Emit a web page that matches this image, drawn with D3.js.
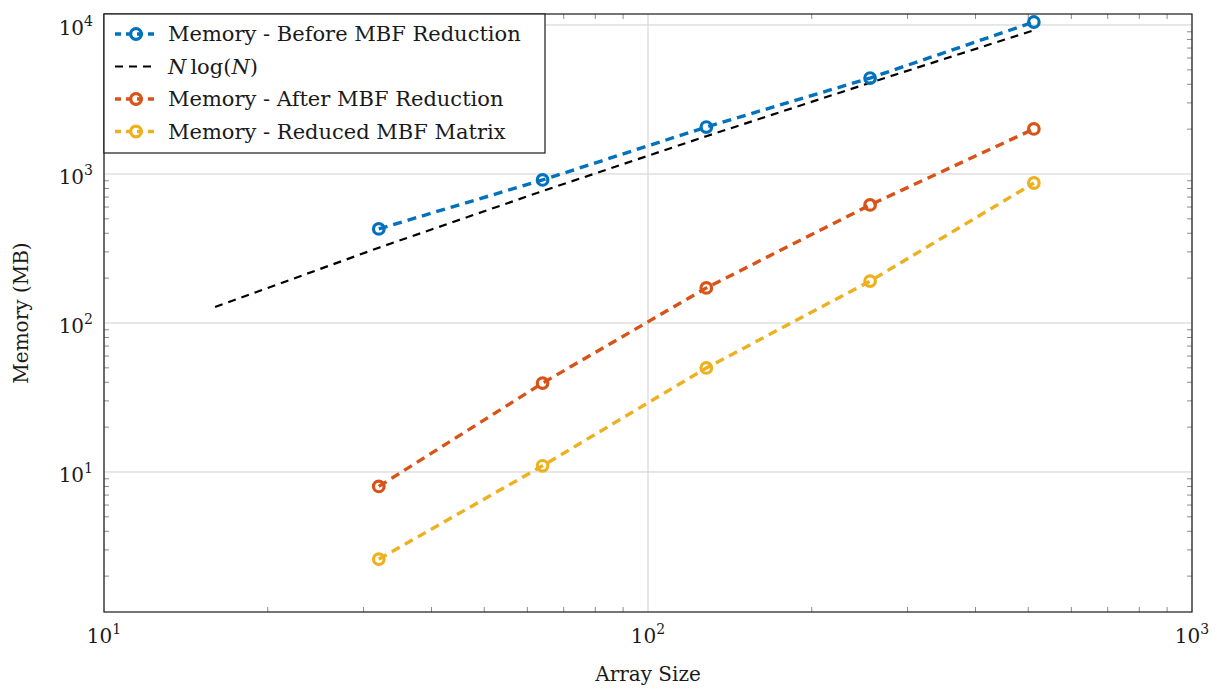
<!DOCTYPE html>
<html>
<head>
<meta charset="utf-8">
<script src="https://cdn.jsdelivr.net/npm/d3@7"></script>
<style>
  html, body { margin: 0; padding: 0; background: #fff; }
  svg text { font-family: "DejaVu Serif", "Liberation Serif", serif; fill: #1a1a1a; }
</style>
</head>
<body>
<svg id="chart" width="1217" height="690"></svg>
<script>
// Array sizes and measured memory use (MB)
const arraySizes = [32, 64, 128, 256, 512];
const memBefore  = [428, 912, 2066, 4405, 10470];
const memAfter   = [8.0, 39.5, 172, 620, 2005];
const memReduced = [2.6, 11.0, 49.9, 191, 870];

// Reference N log(N) curve (scaled)
const refSizes  = [16, 32, 64, 128, 256, 512];
const refValues = [128, 320, 768, 1792, 4096, 9216];

const xTickExps = [1, 2, 3];
const yTickExps = [1, 2, 3, 4];

const colors = { before: "#0072BD", after: "#D95319", reduced: "#EDB120", ref: "#000000" };

const margin = { left: 104, right: 25, top: 14, bottom: 78 };
const W = 1217, H = 690;
const svg = d3.select("#chart");

const x = d3.scaleLog().domain([10, 1000]).range([margin.left, W - margin.right]);
const y = d3.scaleLog().domain([1.149, 11850]).range([H - margin.bottom, margin.top]);

const x0 = margin.left, x1 = W - margin.right, y0 = H - margin.bottom, y1 = margin.top;

// Grid lines at decades
const g = svg.append("g");
xTickExps.forEach(e => {
  const px = x(Math.pow(10, e));
  g.append("line").attr("x1", px).attr("x2", px).attr("y1", y0).attr("y2", y1)
    .attr("stroke", "#cfcfcf").attr("stroke-width", 1);
});
yTickExps.forEach(e => {
  const py = y(Math.pow(10, e));
  g.append("line").attr("x1", x0).attr("x2", x1).attr("y1", py).attr("y2", py)
    .attr("stroke", "#cfcfcf").attr("stroke-width", 1);
});

// Minor ticks, drawn inward on all four sides
const tickColor = "#8a8a8a";
const xMinor = [];
for (let e = 1; e < 3; e++) for (let k = 2; k <= 9; k++) xMinor.push(k * Math.pow(10, e));
xMinor.forEach(v => {
  const px = x(v);
  g.append("line").attr("x1", px).attr("x2", px).attr("y1", y0).attr("y2", y0 - 5).attr("stroke", tickColor);
  g.append("line").attr("x1", px).attr("x2", px).attr("y1", y1).attr("y2", y1 + 5).attr("stroke", tickColor);
});
const yMinor = [];
for (let e = 0; e < 5; e++) for (let k = 1; k <= 9; k++) {
  const v = k * Math.pow(10, e);
  if (k !== 1 && v > y.domain()[0] && v < y.domain()[1]) yMinor.push(v);
}
yMinor.forEach(v => {
  const py = y(v);
  g.append("line").attr("x1", x0).attr("x2", x0 + 5).attr("y1", py).attr("y2", py).attr("stroke", tickColor);
  g.append("line").attr("x1", x1).attr("x2", x1 - 5).attr("y1", py).attr("y2", py).attr("stroke", tickColor);
});

// Axis frame
svg.append("rect").attr("x", x0).attr("y", y1).attr("width", x1 - x0).attr("height", y0 - y1)
  .attr("fill", "none").attr("stroke", "#1a1a1a").attr("stroke-width", 1.2);

// Tick labels
function powerLabel(sel, exp) {
  sel.append("tspan").text("10");
  sel.append("tspan").attr("dy", -9).attr("font-size", 14).text(exp);
}
xTickExps.forEach(e => {
  const t = svg.append("text").attr("x", x(Math.pow(10, e))).attr("y", y0 + 31)
    .attr("text-anchor", "middle").attr("font-size", 20);
  powerLabel(t, e);
});
yTickExps.forEach(e => {
  const t = svg.append("text").attr("x", x0 - 11).attr("y", y(Math.pow(10, e)) + 10)
    .attr("text-anchor", "end").attr("font-size", 20);
  powerLabel(t, e);
});

// Axis titles
svg.append("text").attr("x", (x0 + x1) / 2).attr("y", 681).attr("text-anchor", "middle")
  .attr("font-size", 20).text("Array Size");
svg.append("text").attr("transform", `translate(28,${(y0 + y1) / 2}) rotate(-90)`)
  .attr("text-anchor", "middle").attr("font-size", 20).text("Memory (MB)");

// Series
const line = d3.line().x(d => x(d[0])).y(d => y(d[1]));
const plot = svg.append("g");

function drawSeries(xs, ys, color, markers) {
  const pts = xs.map((v, i) => [v, ys[i]]);
  plot.append("path").attr("d", line(pts)).attr("fill", "none")
    .attr("stroke", color).attr("stroke-width", markers ? 3.4 : 2.2)
    .attr("stroke-dasharray", markers ? "9,6" : "8,6");
  if (markers) {
    plot.selectAll(null).data(pts).enter().append("circle")
      .attr("cx", d => x(d[0])).attr("cy", d => y(d[1])).attr("r", 5.3)
      .attr("fill", "none").attr("stroke", color).attr("stroke-width", 3.2);
  }
}
drawSeries(refSizes, refValues, colors.ref, false);
drawSeries(arraySizes, memBefore, colors.before, true);
drawSeries(arraySizes, memAfter, colors.after, true);
drawSeries(arraySizes, memReduced, colors.reduced, true);

// Legend
const legend = svg.append("g");
legend.append("rect").attr("x", x0).attr("y", y1).attr("width", 441).attr("height", 139)
  .attr("fill", "#fff").attr("stroke", "#1a1a1a").attr("stroke-width", 1.2);
const entries = [
  { label: "Memory - Before MBF Reduction", color: colors.before, marker: true },
  { label: null, color: colors.ref, marker: false },
  { label: "Memory - After MBF Reduction", color: colors.after, marker: true },
  { label: "Memory - Reduced MBF Matrix", color: colors.reduced, marker: true }
];
entries.forEach((d, i) => {
  const cy = 34 + i * 32.5;
  legend.append("line").attr("x1", 115).attr("x2", 156).attr("y1", cy).attr("y2", cy)
    .attr("stroke", d.color).attr("stroke-width", d.marker ? 3.4 : 2.2)
    .attr("stroke-dasharray", d.marker ? "6,5" : "8,6");
  if (d.marker) {
    legend.append("circle").attr("cx", 136).attr("cy", cy).attr("r", 5.3)
      .attr("fill", "none").attr("stroke", d.color).attr("stroke-width", 3.2);
  }
  const t = legend.append("text").attr("x", 168).attr("y", cy + 7).attr("font-size", 21);
  if (d.label) {
    t.text(d.label);
  } else {
    t.append("tspan").attr("font-style", "italic").text("N");
    t.append("tspan").attr("dx", 4).text("log(");
    t.append("tspan").attr("font-style", "italic").text("N");
    t.append("tspan").text(")");
  }
});
</script>
</body>
</html>
